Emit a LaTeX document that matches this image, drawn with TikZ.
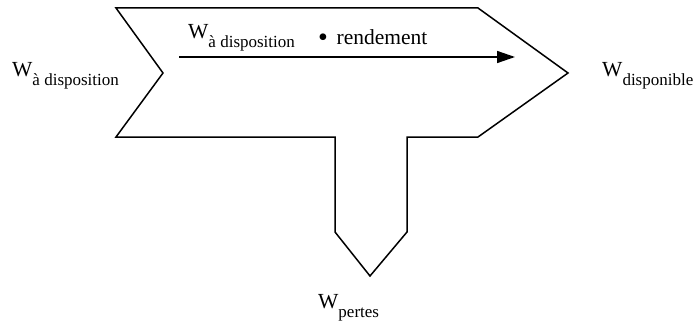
\documentclass[tikz,border=0pt]{standalone}
\usepackage{fontspec}
\setmainfont{Liberation Serif}
\usepackage{tikz}
\usetikzlibrary{positioning,calc}
\usetikzlibrary{arrows.meta}

\newcommand{\Wsub}[1]{W\raisebox{-9.5pt}{\fontsize{17}{20}\selectfont #1}}

\begin{document}
\begin{tikzpicture}[
  x = 1pt,
  y = -1pt,
  outline/.style = {
    draw,
    line width = 1.5pt,
    line join = miter,
  },
  label/.style = {
    anchor = base west,
    inner sep = 0pt,
    font = \fontsize{21.5}{24}\selectfont,
  },
  flow/.style = {
    draw,
    line width = 1.5pt,
  },
  >={Triangle[length=18pt,width=12pt]},
]

  \useasboundingbox (0,0) rectangle (693,329);

  % contour de la fleche
  \draw[outline] (116,8) -- (478,8) -- (568,73) -- (478,137) -- (407,137)
    -- (407,232) -- (370,276) -- (335,232) -- (335,137) -- (116,137)
    -- (163,73) -- cycle;

  \node[label] (win) at (12,76) {\Wsub{à disposition}};
  \node[label] (wout) at (602,76) {\Wsub{disponible}};
  \node[label] (wloss) at (318,308) {\Wsub{pertes}};

  \node[label] (wtop) at (188,38) {\Wsub{à disposition}};
  \node[label] (rend) at (318,45)
    {\raisebox{-1.5pt}{\fontsize{28}{30}\selectfont\textbullet}\hspace{0.4em}rendement};

  \coordinate (a0) at (179,57);
  \coordinate (a1) at (515,57);
  \path[flow,->] (a0) -- (a1);

\end{tikzpicture}
\end{document}
